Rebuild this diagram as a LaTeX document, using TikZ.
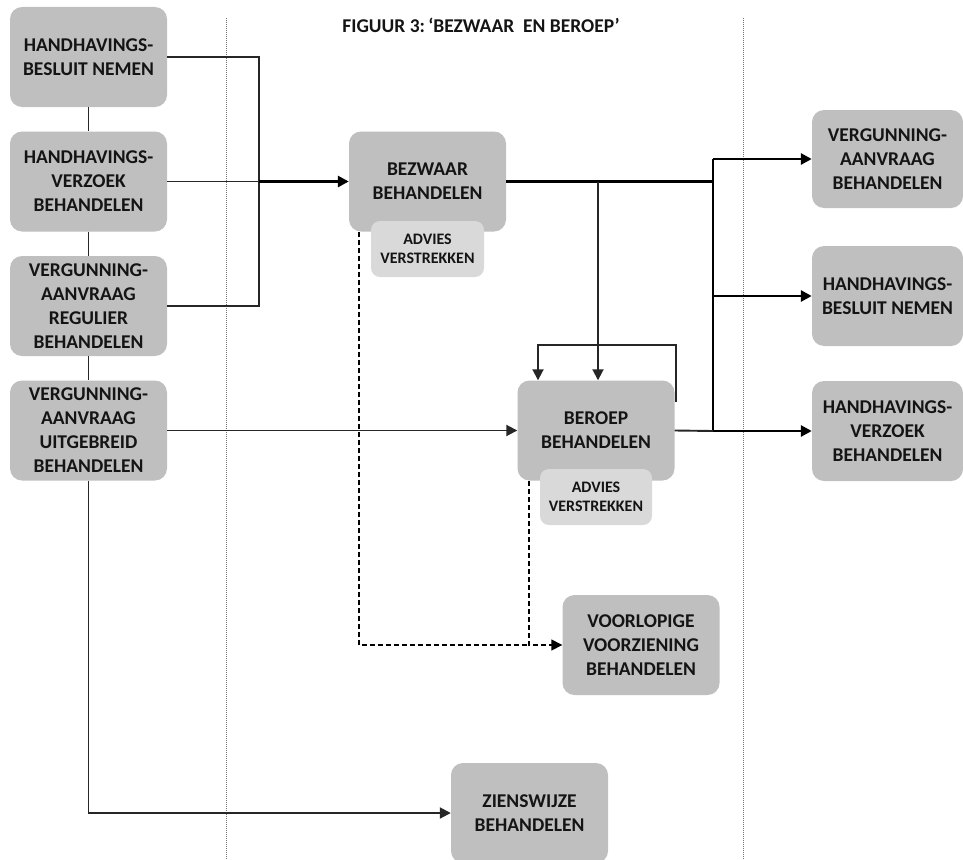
\documentclass[tikz,border=0pt]{standalone}
\usepackage{fontspec}
\setmainfont{Carlito}
\usetikzlibrary{arrows.meta}
\definecolor{boxgray}{HTML}{BFBFBF}
\definecolor{advgray}{HTML}{D9D9D9}
\definecolor{txt}{HTML}{141414}
\begin{document}
\begin{tikzpicture}[x=1pt,y=-1pt,
  box/.style={rectangle,rounded corners=12pt,fill=boxgray,inner sep=0pt,
    minimum width=157pt,minimum height=100pt,align=center,text=txt,
    font=\bfseries\fontsize{19.5}{24}\selectfont},
  advbox/.style={rectangle,rounded corners=9pt,fill=advgray,inner sep=0pt,
    minimum width=113pt,minimum height=56pt,align=center,text=txt,
    font=\bfseries\fontsize{16}{19}\selectfont},
  conn/.style={line width=1.9pt,draw=black!85},
  thk/.style={line width=2.8pt,draw=black},
  tip/.style={-{Triangle[length=11pt,width=11pt]}},
  dsh/.style={line width=1.4pt,draw=black,dash pattern=on 5pt off 3pt},
  sep/.style={line width=1pt,draw=black!55,dash pattern=on 1pt off 1pt}]
\useasboundingbox (0,0) rectangle (963,859);
% separators
\coordinate (s1t) at (226,18); \coordinate (s1b) at (226,859);
\coordinate (s2t) at (743,18); \coordinate (s2b) at (743,859);
\draw[sep] (s1t) -- (s1b);
\draw[sep] (s2t) -- (s2b);
\node[text=txt,font=\bfseries\fontsize{19.5}{22}\selectfont] (title) at (481,25) {FIGUUR 3:\,‘BEZWAAR\ \ EN BEROEP’};
% left boxes
\node[box] (L1) at (88.5,57) {HANDHAVINGS-\\BESLUIT NEMEN};
\node[box] (L2) at (88.5,181.5) {HANDHAVINGS-\\VERZOEK\\BEHANDELEN};
\node[box] (L3) at (88.5,306) {VERGUNNING-\\AANVRAAG\\REGULIER\\BEHANDELEN};
\node[box] (L4) at (88.5,430.5) {VERGUNNING-\\AANVRAAG\\UITGEBREID\\BEHANDELEN};
% middle
\node[box] (B) at (427.5,181.5) {BEZWAAR\\BEHANDELEN};
\node[advbox] (A1) at (427.5,249) {ADVIES\\VERSTREKKEN};
\node[box] (R) at (596,430.5) {BEROEP\\BEHANDELEN};
\node[advbox,minimum width=112pt] (A2) at (596,497) {ADVIES\\VERSTREKKEN};
\node[box] (V) at (641,645) {VOORLOPIGE\\VOORZIENING\\BEHANDELEN};
\node[box] (Z) at (529.5,813) {ZIENSWIJZE\\BEHANDELEN};
% right
\node[box,minimum width=151pt,minimum height=98pt] (RA) at (887.5,159) {VERGUNNING-\\AANVRAAG\\BEHANDELEN};
\node[box,minimum width=151pt] (RB) at (887.5,296) {HANDHAVINGS-\\BESLUIT NEMEN};
\node[box,minimum width=151pt] (RC) at (887.5,431) {HANDHAVINGS-\\VERZOEK\\BEHANDELEN};
% left connectors
\draw[conn] (L1.south) -- (L2.north);
\draw[conn] (L2.south) -- (L3.north);
\draw[conn] (L3.south) -- (L4.north);
\draw[conn,tip] (L4.south) |- (Z.west);
\coordinate (jb) at (259,181.5);
\draw[conn] (L1.east) -| (jb) |- (L3.east);
\draw[conn] (L2.east) -- (jb);
\draw[thk,tip] (jb) -- (B.west);
% bezwaar outputs
\coordinate (br) at (598,181.5);
\coordinate (vt) at (713,159);
\coordinate (vm) at (713,296);
\coordinate (vb) at (713,431);
\draw[thk] (B.east) -- (vt |- B.east);
\draw[conn,tip] (br) -- (br |- R.north);
\draw[thk] (vt) -- (vb);
\draw[thk,tip] (vt) -- (RA.west);
\draw[thk,tip] (vm) -- (RB.west);
\draw[thk,tip] (vb) -- (RC.west);
\draw[conn] (R.east) -- (vb);
% beroep loop
\coordinate (lpA) at (676,402);
\coordinate (lpC) at (538,345);
\draw[conn,tip] (lpA) |- (lpC) -- (lpC |- R.north);
% uitgebreid to beroep
\draw[conn,tip] (L4.east) -- (R.west);
% dashed to voorlopige
\coordinate (d1) at (359,232);
\coordinate (d2) at (529,481);
\draw[dsh] (d1) |- (d2 |- V.west);
\draw[dsh,tip] (d2) -- (d2 |- V.west) -- (V.west);
\end{tikzpicture}
\end{document}
